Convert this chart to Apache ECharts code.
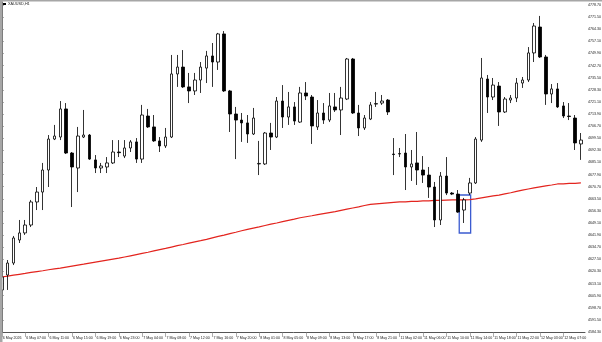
<!DOCTYPE html>
<html>
<head>
<meta charset="utf-8">
<script src="https://cdn.jsdelivr.net/npm/echarts@6.0.0/dist/echarts.min.js"></script>
<style>
  html, body { margin: 0; padding: 0; background: #fff; }
  #Chart { width: 602px; height: 342px; }
</style>
</head>
<body>
<div id="Chart"></div>
<script>
var Chart = echarts.init(document.getElementById('Chart'));

// XAUUSD H1, bars 6 May 03:00 .. 12 May 10:00
var opens = [4609.3, 4618.2, 4625.3, 4639.0, 4643.2, 4647.9, 4661.6, 4667.5, 4680.6, 4699.0,
             4700.2, 4716.9, 4690.7, 4681.8, 4700.2, 4701.4, 4686.6, 4681.8, 4682.4, 4684.8,
             4691.3, 4688.9, 4693.7, 4697.3, 4687.1, 4712.7, 4706.2, 4697.9, 4694.9, 4700.2,
             4737.7, 4741.8, 4730.0, 4727.6, 4734.1, 4741.2, 4748.4, 4744.8, 4761.5, 4727.6,
             4713.9, 4710.3, 4708.6, 4702.0, 4684.2, 4684.2, 4702.6, 4700.2, 4721.6, 4712.1,
             4718.1, 4709.1, 4726.4, 4724.0, 4706.2, 4714.5, 4710.3, 4718.1, 4716.3, 4722.8,
             4746.6, 4714.5, 4705.6, 4710.9, 4719.8, 4720.4, 4722.2, 4690.1, 4690.1, 4690.7,
             4682.4, 4684.8, 4680.6, 4677.6, 4670.5, 4650.9, 4677.0, 4666.9, 4666.3, 4656.8,
             4666.9, 4672.9, 4698.4, 4734.7, 4724.0, 4730.5, 4715.1, 4722.2, 4723.4, 4732.3,
             4734.1, 4750.2, 4765.6, 4747.8, 4725.8, 4728.8, 4718.7, 4712.7, 4711.5, 4696.1];
var closes = [4617.0, 4625.3, 4640.2, 4643.2, 4647.9, 4661.6, 4667.5, 4680.6, 4699.0, 4700.8,
              4716.9, 4690.7, 4682.4, 4700.8, 4701.4, 4687.1, 4681.8, 4683.0, 4684.8, 4691.3,
              4690.9, 4693.7, 4697.3, 4687.1, 4713.3, 4706.2, 4697.9, 4694.9, 4700.2, 4737.7,
              4741.8, 4730.0, 4727.6, 4734.1, 4741.8, 4748.4, 4744.8, 4761.5, 4727.6, 4713.9,
              4710.3, 4708.6, 4702.0, 4711.5, 4684.5, 4702.6, 4700.2, 4721.6, 4712.1, 4718.1,
              4709.7, 4726.4, 4724.6, 4706.8, 4714.5, 4710.3, 4718.7, 4716.3, 4723.4, 4746.6,
              4714.5, 4705.6, 4711.5, 4719.3, 4720.1, 4721.6, 4715.1, 4689.8, 4690.4, 4682.4,
              4684.2, 4680.6, 4677.6, 4670.5, 4650.9, 4677.0, 4666.9, 4666.3, 4655.6, 4662.8,
              4672.9, 4699.0, 4735.3, 4724.0, 4731.1, 4715.1, 4722.8, 4723.4, 4732.3, 4734.1,
              4750.2, 4766.2, 4747.8, 4725.8, 4728.8, 4718.1, 4712.7, 4712.4, 4696.7, 4698.4];
var lows = [4603.3, 4609.3, 4624.1, 4637.2, 4642.0, 4646.7, 4656.8, 4656.8, 4670.5, 4698.4,
            4698.4, 4690.1, 4658.6, 4667.5, 4699.6, 4686.6, 4678.8, 4678.8, 4678.8, 4684.2,
            4688.3, 4687.7, 4691.3, 4684.8, 4684.8, 4705.6, 4697.3, 4691.3, 4693.7, 4699.6,
            4730.0, 4729.4, 4720.4, 4725.2, 4726.4, 4732.3, 4730.0, 4740.1, 4727.0, 4703.2,
            4687.1, 4697.3, 4696.7, 4701.4, 4677.6, 4683.6, 4692.5, 4699.6, 4705.6, 4707.4,
            4707.4, 4708.6, 4722.2, 4696.1, 4704.4, 4708.0, 4709.1, 4715.1, 4701.4, 4722.2,
            4713.9, 4700.8, 4704.4, 4710.3, 4718.1, 4719.3, 4713.3, 4677.6, 4688.3, 4668.7,
            4674.1, 4671.7, 4672.9, 4664.0, 4646.7, 4647.9, 4665.7, 4665.7, 4655.1, 4649.1,
            4665.7, 4672.3, 4697.3, 4714.5, 4722.2, 4706.8, 4714.5, 4720.4, 4721.0, 4729.4,
            4732.9, 4744.8, 4747.2, 4719.3, 4720.4, 4717.5, 4711.5, 4710.3, 4692.5, 4686.6];
var highs = [4621.2, 4627.1, 4641.4, 4650.9, 4650.9, 4662.8, 4670.5, 4684.8, 4701.4, 4707.4,
             4721.6, 4720.4, 4691.3, 4706.2, 4716.3, 4702.0, 4689.5, 4684.8, 4688.3, 4698.4,
             4698.4, 4698.4, 4698.4, 4699.6, 4719.3, 4716.9, 4713.3, 4700.2, 4705.6, 4749.0,
             4749.0, 4751.9, 4738.3, 4738.3, 4744.8, 4751.4, 4756.1, 4762.1, 4763.2, 4728.2,
             4718.1, 4714.5, 4713.3, 4717.5, 4697.9, 4703.2, 4708.6, 4724.0, 4731.1, 4727.0,
             4721.0, 4730.0, 4732.9, 4725.2, 4722.2, 4720.4, 4726.4, 4726.4, 4730.0, 4747.2,
             4747.2, 4719.3, 4713.3, 4721.0, 4727.0, 4725.2, 4722.8, 4699.6, 4693.7, 4702.0,
             4692.5, 4703.2, 4688.9, 4682.4, 4673.5, 4679.4, 4688.3, 4667.5, 4668.7, 4664.0,
             4675.9, 4700.2, 4747.2, 4737.1, 4735.3, 4732.9, 4724.0, 4725.2, 4735.3, 4735.9,
             4753.7, 4768.0, 4772.2, 4749.0, 4731.7, 4732.3, 4721.0, 4720.4, 4713.3, 4702.6];
// red moving average
var maValues = [4617.0, 4617.5, 4618.1, 4618.6, 4619.1, 4619.7, 4620.2, 4620.7, 4621.3, 4621.8,
                4622.3, 4622.9, 4623.5, 4624.1, 4624.6, 4625.2, 4625.8, 4626.4, 4627.0, 4627.6,
                4628.2, 4628.9, 4629.6, 4630.3, 4631.0, 4631.7, 4632.5, 4633.3, 4634.0, 4634.8,
                4635.6, 4636.3, 4637.1, 4637.9, 4638.6, 4639.4, 4640.3, 4641.1, 4641.9, 4642.8,
                4643.6, 4644.5, 4645.3, 4646.1, 4646.8, 4647.6, 4648.4, 4649.1, 4649.9, 4650.7,
                4651.4, 4652.2, 4652.8, 4653.4, 4654.1, 4654.7, 4655.3, 4655.9, 4656.6, 4657.3,
                4658.0, 4658.7, 4659.5, 4660.2, 4660.5, 4660.8, 4661.1, 4661.4, 4661.6, 4661.7,
                4661.9, 4662.0, 4662.2, 4662.3, 4662.5, 4662.6, 4662.7, 4662.8, 4662.8, 4662.9,
                4663.0, 4663.4, 4664.0, 4664.6, 4665.2, 4665.7, 4666.4, 4667.1, 4667.9, 4668.6,
                4669.3, 4670.0, 4670.6, 4671.2, 4671.7, 4672.3, 4672.4, 4672.6, 4672.7, 4672.9];
// time labels, one every 4 bars
var timeLabels = ['6 May 2026', '6 May 07:00', '6 May 11:00', '6 May 15:00', '6 May 19:00',
                  '6 May 23:00', '7 May 04:00', '7 May 08:00', '7 May 12:00', '7 May 16:00',
                  '7 May 20:00', '8 May 01:00', '8 May 05:00', '8 May 09:00', '8 May 13:00',
                  '8 May 17:00', '8 May 21:00', '11 May 02:00', '11 May 06:00', '11 May 10:00',
                  '11 May 14:00', '11 May 18:00', '11 May 22:00', '12 May 03:00', '12 May 07:00'];
var priceMin = 4584.3;
var priceStep = 7.2;
// drawn rectangle object: [fromBar, toBar, topPrice, bottomPrice]
var boxObject = [78.2, 80.15, 4665.75, 4643.16];

var candleData = [];
var maData = [];
for (var i = 0; i < opens.length; i++) {
    candleData.push([i, opens[i], closes[i], lows[i], highs[i]]);
    maData.push([i, maValues[i]]);
}

var axisColor = '#555';
var labelFont = '"Liberation Sans", Arial, sans-serif';

var option = {
    animation: false,
    backgroundColor: '#fff',
    grid: { left: 1.8, right: 17, top: 2, bottom: 10, outerBoundsMode: 'none', containLabel: false },
    xAxis: {
        type: 'value',
        min: 0,
        max: 99.7,
        interval: 4,
        axisLine: { show: true, onZero: false, lineStyle: { color: axisColor, width: 1 } },
        axisTick: { show: true, length: 5, lineStyle: { color: '#777', width: 0.6 } },
        splitLine: { show: false },
        axisLabel: {
            fontSize: 3.6,
            fontFamily: labelFont,
            color: '#222',
            align: 'left',
            margin: 4,
            padding: [0, 0, 0, 1],
            showMinLabel: true,
            showMaxLabel: false,
            hideOverlap: false,
            formatter: function (v) {
                var k = Math.round(v / 4);
                return timeLabels[k] || '';
            }
        }
    },
    yAxis: {
        type: 'value',
        position: 'right',
        min: priceMin,
        max: 4780.48,
        interval: priceStep,
        scale: true,
        axisLine: { show: true, lineStyle: { color: axisColor, width: 1 } },
        axisTick: { show: true, length: 2, lineStyle: { color: axisColor, width: 0.6 } },
        splitLine: { show: false },
        axisLabel: {
            fontSize: 3.6,
            fontFamily: labelFont,
            color: '#222',
            margin: 3,
            padding: [6, 0, 0, 0],
            showMinLabel: true,
            showMaxLabel: false,
            formatter: function (v) { return v.toFixed(2); }
        }
    },
    graphic: [
        { type: 'rect', shape: { x: 0, y: 0, width: 602, height: 1.5 }, style: { fill: '#a6a6a6' }, z: 100 },
        { type: 'rect', shape: { x: 0, y: 0, width: 2.5, height: 342 }, style: { fill: '#a6a6a6' }, z: 100 },
        { type: 'rect', shape: { x: 3, y: 3, width: 3, height: 2 }, style: { fill: '#000' }, z: 100 },
        { type: 'text', x: 8, y: 2, style: { text: 'XAUUSD,H1', fontSize: 3.8, fontFamily: labelFont, fill: '#222' }, z: 100 }
    ],
    series: [
        {
            name: 'MA',
            type: 'line',
            data: maData,
            showSymbol: false,
            z: 1,
            lineStyle: { color: '#e3241e', width: 1.2 }
        },
        {
            name: 'XAUUSD,H1',
            type: 'candlestick',
            data: candleData,
            encode: { x: 0, y: [1, 2, 3, 4] },
            barWidth: 3,
            z: 2,
            itemStyle: {
                color: '#fff',
                color0: '#000',
                borderColor: '#000',
                borderColor0: '#000',
                borderWidth: 0.8
            },
            markArea: {
                silent: true,
                itemStyle: { color: 'rgba(0,0,0,0)', borderColor: '#3b5bd0', borderWidth: 1.3 },
                data: [[
                    { coord: [boxObject[0], boxObject[2]] },
                    { coord: [boxObject[1], boxObject[3]] }
                ]]
            }
        }
    ]
};

Chart.setOption(option);

window.addEventListener("resize", function () {
    Chart.resize();
});
</script>
</body>
</html>
